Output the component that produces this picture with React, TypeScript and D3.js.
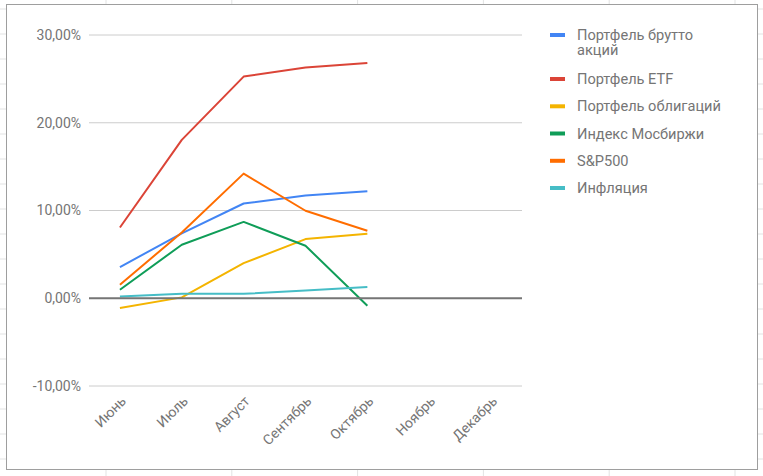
import React from "react";
import * as d3 from "d3";

const W = 763;
const H = 476;

const categories = ["Июнь", "Июль", "Август", "Сентябрь", "Октябрь", "Ноябрь", "Декабрь"];
const yTicks = [-10, 0, 10, 20, 30];

const seriesNames = [
  "Портфель брутто акций",
  "Портфель ETF",
  "Портфель облигаций",
  "Индекс Мосбиржи",
  "S&P500",
  "Инфляция",
];
const seriesColors = ["#4285F4", "#DB4437", "#F4B400", "#0F9D58", "#FF6D00", "#46BDC6"];

const grossStocks = [3.55, 7.4, 10.8, 11.7, 12.2];
const etf = [8.06, 18.05, 25.26, 26.3, 26.8];
const bonds = [-1.12, 0.1, 4.0, 6.74, 7.35];
const moex = [0.97, 6.1, 8.7, 5.98, -0.85];
const sp500 = [1.54, 7.5, 14.2, 9.97, 7.7];
const inflation = [0.2, 0.5, 0.5, 0.89, 1.27];

const seriesValues = [grossStocks, etf, bonds, moex, sp500, inflation];

const legendLines = [["Портфель брутто", "акций"], ["Портфель ETF"], ["Портфель облигаций"], ["Индекс Мосбиржи"], ["S&P500"], ["Инфляция"]];

const FONT = "Roboto, 'Noto Sans', Arial, sans-serif";

export default function App() {
  const x = d3.scalePoint<string>().domain(categories).range([89, 522]).padding(0.5);
  const y = d3.scaleLinear().domain([-10, 30]).range([386, 35]);
  const line = d3
    .line<number>()
    .x((_, i) => x(categories[i]) as number)
    .y((d) => y(d));

  const colXs = d3.range(6).map((i) => 106 + i * 125.8);
  const rowYs = d3.range(19).map((i) => 9 + i * 25);

  const legendY = [35, 79, 106.3, 133.5, 160.8, 188];

  return (
    <svg
      width={W}
      height={H}
      style={{ position: "absolute", left: 0, top: 0, display: "block" }}
      fontFamily={FONT}
    >
      <rect x={0} y={0} width={W} height={H} fill="#ffffff" />
      {/* spreadsheet grid */}
      {colXs.map((cx, i) => (
        <line key={"c" + i} x1={cx} x2={cx} y1={0} y2={H} stroke="#e2e3e3" strokeWidth={1} />
      ))}
      {rowYs.map((ry, i) => (
        <line key={"r" + i} x1={0} x2={W} y1={ry} y2={ry} stroke="#e2e3e3" strokeWidth={1} />
      ))}
      {/* chart box */}
      <rect x={6.5} y={4.5} width={751} height={465} fill="#ffffff" stroke="#9e9e9e" strokeWidth={1} />

      {/* gridlines */}
      {yTicks.map((t) => (
        <g key={t}>
          {t !== 0 && (
            <line x1={89} x2={522} y1={y(t)} y2={y(t)} stroke="#cccccc" strokeWidth={1} />
          )}
          <text
            x={81}
            y={y(t)}
            dy="0.35em"
            textAnchor="end"
            fontSize={14}
            fill="#757575"
          >
            {t.toFixed(2).replace(".", ",") + "%"}
          </text>
        </g>
      ))}

      {/* x labels */}
      {categories.map((c) => (
        <text
          key={c}
          transform={`translate(${(x(c) as number) + 7},${402}) rotate(-45)`}
          textAnchor="end"
          fontSize={14}
          fill="#757575"
        >
          {c}
        </text>
      ))}

      {/* series */}
      {seriesValues.map((vals, si) => (
        <path
          key={si}
          d={line(vals) || ""}
          fill="none"
          stroke={seriesColors[si]}
          strokeWidth={2}
          strokeLinejoin="round"
        />
      ))}

      {/* zero line */}
      <line x1={89} x2={522} y1={y(0)} y2={y(0)} stroke="#757575" strokeWidth={2} />

      {/* legend */}
      {seriesNames.map((name, i) => (
        <g key={name}>
          <line
            x1={550}
            x2={565}
            y1={legendY[i]}
            y2={legendY[i]}
            stroke={seriesColors[i]}
            strokeWidth={4}
          />
          {legendLines[i].map((ln, j) => (
            <text
              key={j}
              x={577}
              y={legendY[i] + j * 15}
              dy="0.35em"
              fontSize={14.6}
              fill="#757575"
            >
              {ln}
            </text>
          ))}
        </g>
      ))}
    </svg>
  );
}
